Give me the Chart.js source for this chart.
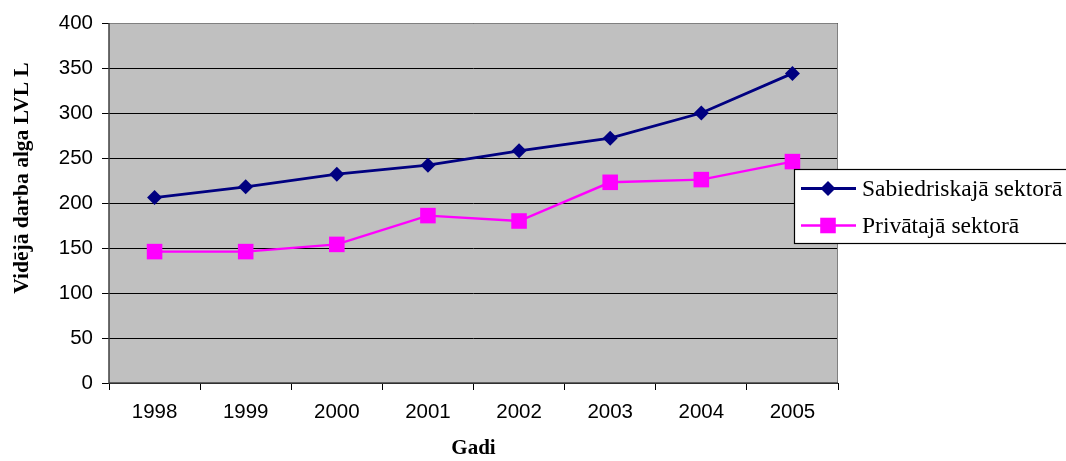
<!DOCTYPE html>
<html>
<head>
<meta charset="utf-8">
<script src="https://cdn.jsdelivr.net/npm/chart.js@4"></script>
<style>
html,body{margin:0;padding:0;background:#fff;}
#wrap{width:1066px;height:461px;position:relative;}
</style>
</head>
<body>
<div id="wrap"><canvas id="c" width="1066" height="461"></canvas></div>
<script>
const categories = ['1998','1999','2000','2001','2002','2003','2004','2005'];
const publicSector = [206, 218, 232, 242, 258, 272, 300, 344];
const privateSector = [146, 146, 154, 186, 180, 223, 226, 246];
const seriesNames = ['Sabiedriskajā sektorā', 'Privātajā sektorā'];
const yTitle = 'Vidējā darba alga LVL L';
const xTitle = 'Gadi';

const bgPlugin = {
  id: 'plotBg',
  beforeDraw(chart) {
    const {ctx, chartArea: a} = chart;
    ctx.save();
    ctx.fillStyle = '#C0C0C0';
    ctx.fillRect(a.left, a.top, a.right - a.left, a.bottom - a.top);
    ctx.restore();
  },
  afterDatasetsDraw(chart) {
    const {ctx, chartArea: a} = chart;
    ctx.save();
    ctx.strokeStyle = '#808080';
    ctx.lineWidth = 1;
    ctx.beginPath();
    ctx.moveTo(a.left, a.top + 0.5);
    ctx.lineTo(a.right - 0.5, a.top + 0.5);
    ctx.lineTo(a.right - 0.5, a.bottom);
    ctx.stroke();
    ctx.strokeStyle = '#404040';
    ctx.lineWidth = 1.5;
    ctx.beginPath();
    ctx.moveTo(a.left, a.top);
    ctx.lineTo(a.left, a.bottom);
    ctx.lineTo(a.right, a.bottom);
    ctx.stroke();
    ctx.restore();
  },
  afterDraw(chart) {
    const {ctx, chartArea: a} = chart;
    ctx.save();
    // y title
    ctx.translate(22, (a.top + a.bottom) / 2 - 25);
    ctx.rotate(-Math.PI / 2);
    ctx.font = 'bold 21.5px "Liberation Serif", "Times New Roman", serif';
    ctx.fillStyle = '#000';
    ctx.textAlign = 'center';
    ctx.textBaseline = 'middle';
    ctx.fillText(yTitle, 0, 0);
    ctx.restore();

    // legend
    ctx.save();
    const lx = a.right - 44, ly = a.top + 146, lw = 300, lh = 74;
    ctx.fillStyle = '#fff';
    ctx.fillRect(lx, ly, lw, lh);
    ctx.strokeStyle = '#000';
    ctx.lineWidth = 1.2;
    ctx.strokeRect(lx + 0.5, ly + 0.5, lw, lh);
    ctx.font = '23.5px "Liberation Serif", "Times New Roman", serif';
    ctx.textBaseline = 'middle';
    ctx.textAlign = 'left';
    chart.data.datasets.forEach((ds, i) => {
      const cy = ly + 19.5 + i * 37;
      ctx.strokeStyle = ds.borderColor;
      ctx.lineWidth = ds.borderWidth;
      ctx.beginPath();
      ctx.moveTo(lx + 7, cy);
      ctx.lineTo(lx + 62, cy);
      ctx.stroke();
      ctx.fillStyle = ds.pointBackgroundColor;
      ctx.beginPath();
      const mx = lx + 34;
      if (ds.pointStyle === 'rectRot') {
        const r = ds.pointRadius;
        ctx.moveTo(mx - r, cy); ctx.lineTo(mx, cy - r); ctx.lineTo(mx + r, cy); ctx.lineTo(mx, cy + r); ctx.closePath();
      } else {
        const s = ds.pointRadius * Math.SQRT1_2;
        ctx.rect(mx - s, cy - s, 2 * s, 2 * s);
      }
      ctx.fill();
      ctx.fillStyle = '#000';
      ctx.fillText(ds.label, lx + 68, cy + 1);
    });
    ctx.restore();
  }
};

new Chart(document.getElementById('c'), {
  type: 'line',
  data: {
    labels: categories,
    datasets: [
      {
        label: seriesNames[0],
        data: publicSector,
        borderColor: '#000080',
        backgroundColor: '#000080',
        pointBackgroundColor: '#000080',
        pointBorderColor: '#000080',
        borderWidth: 2.8,
        pointStyle: 'rectRot',
        pointRadius: 7.5,
        pointBorderWidth: 0,
        tension: 0
      },
      {
        label: seriesNames[1],
        data: privateSector,
        borderColor: '#FF00FF',
        backgroundColor: '#FF00FF',
        pointBackgroundColor: '#FF00FF',
        pointBorderColor: '#FF00FF',
        borderWidth: 2.4,
        pointStyle: 'rect',
        pointRadius: 11,
        pointBorderWidth: 0,
        tension: 0
      }
    ]
  },
  options: {
    responsive: false,
    animation: false,
    devicePixelRatio: 1,
    layout: { padding: { left: 0, right: 228, top: 23, bottom: 0 } },
    plugins: {
      legend: { display: false },
      tooltip: { enabled: false }
    },
    scales: {
      x: {
        offset: true,
        grid: {
          offset: true,
          drawOnChartArea: false,
          drawTicks: true,
          tickLength: 7,
          color: '#000',
          tickColor: '#000'
        },
        border: { display: false },
        ticks: {
          color: '#000',
          font: { family: '"Liberation Sans", Arial, sans-serif', size: 20.5 },
          padding: 10,
          maxRotation: 0
        },
        title: {
          display: true,
          text: xTitle,
          color: '#000',
          font: { family: '"Liberation Serif", "Times New Roman", serif', size: 21, weight: 'bold' },
          padding: { top: 0, bottom: 0 }
        },
        afterFit(scale) { scale.height = 78; }
      },
      y: {
        min: 0,
        max: 400,
        ticks: {
          stepSize: 50,
          color: '#000',
          font: { family: '"Liberation Sans", Arial, sans-serif', size: 20.5 },
          padding: 9
        },
        grid: {
          color: '#000',
          lineWidth: 1,
          tickLength: 7,
          tickColor: '#000'
        },
        border: { display: false },
        afterFit(scale) { scale.width = 109; }
      }
    }
  },
  plugins: [bgPlugin]
});
</script>
</body>
</html>
